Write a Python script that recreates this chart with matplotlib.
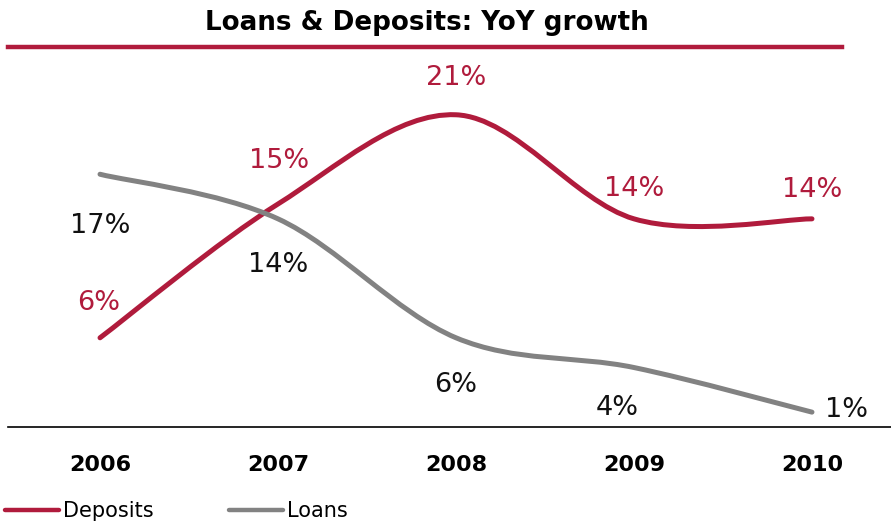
import matplotlib.pyplot as plt
from matplotlib.path import Path
from matplotlib.patches import PathPatch
from matplotlib.lines import Line2D

# Data
years = ['2006', '2007', '2008', '2009', '2010']
deposits = [6, 15, 21, 14, 14]
loans = [17, 14, 6, 4, 1]

crimson = '#B01B3C'
grey = '#828282'


def smooth_path(xs, ys):
    # Catmull-Rom style bezier through every point
    n = len(xs)
    verts = [(xs[0], ys[0])]
    codes = [Path.MOVETO]
    for i in range(n - 1):
        p0 = i - 1 if i > 0 else i
        p3 = i + 2 if i + 2 < n else i + 1
        c1 = (xs[i] + (xs[i + 1] - xs[p0]) / 6, ys[i] + (ys[i + 1] - ys[p0]) / 6)
        c2 = (xs[i + 1] - (xs[p3] - xs[i]) / 6, ys[i + 1] - (ys[p3] - ys[i]) / 6)
        verts += [c1, c2, (xs[i + 1], ys[i + 1])]
        codes += [Path.CURVE4] * 3
    return Path(verts, codes)


fig = plt.figure(figsize=(8.91, 5.25), dpi=100)
ax = fig.add_axes([8 / 891, 98 / 525, 883 / 891, 371.7 / 525])

x = list(range(len(years)))

ax.add_patch(PathPatch(smooth_path(x, deposits), fill=False, edgecolor=crimson,
                       lw=3.6, capstyle='round', joinstyle='round'))
ax.add_patch(PathPatch(smooth_path(x, loans), fill=False, edgecolor=grey,
                       lw=3.6, capstyle='round', joinstyle='round'))

# Value labels (offsets in pixels)
dep_offsets = [(-1, 38), (1, 46), (0, 40), (0, 33), (0, 32)]
loan_offsets = [(0, -49), (0, -43), (0, -44), (-17, -37), (35, 5)]

for xi, v, off in zip(x, deposits, dep_offsets):
    ax.annotate(f'{v}%', (xi, v), xytext=(off[0], off[1] - 10), textcoords='offset pixels',
                ha='center', va='baseline', fontsize=19.5, color=crimson)
for xi, v, off in zip(x, loans, loan_offsets):
    ax.annotate(f'{v}%', (xi, v), xytext=(off[0], off[1] - 10), textcoords='offset pixels',
                ha='center', va='baseline', fontsize=19.5, color='#111111')

ax.set_xlim(-0.517, 4.444)
ax.set_ylim(0, 25)
ax.set_xticks(x)
ax.set_xticklabels(years, fontsize=16, fontweight='bold')
ax.tick_params(axis='x', length=0, pad=20)
ax.set_yticks([])
for side in ['left', 'right', 'top']:
    ax.spines[side].set_visible(False)
ax.spines['bottom'].set_linewidth(1.2)

# Title and rule under it
fig.text(427 / 891, 1 - 30 / 525, 'Loans & Deposits: YoY growth', ha='center', va='baseline',
         fontsize=18.8, fontweight='bold')
fig.add_artist(Line2D([8 / 891, 842 / 891], [1 - 47 / 525, 1 - 47 / 525],
                      color=crimson, lw=3.2, transform=fig.transFigure))

handles = [Line2D([], [], color=crimson, lw=3.2, solid_capstyle='round'),
           Line2D([], [], color=grey, lw=3.2, solid_capstyle='round')]
fig.legend(handles, ['Deposits', 'Loans'], loc='center left',
           bbox_to_anchor=(5 / 891, 1 - 511 / 525), ncol=2, frameon=False,
           fontsize=15, handlelength=2.6, handletextpad=0.2, columnspacing=3.6,
           borderpad=0, borderaxespad=0)

plt.savefig('out.png', dpi=100)
